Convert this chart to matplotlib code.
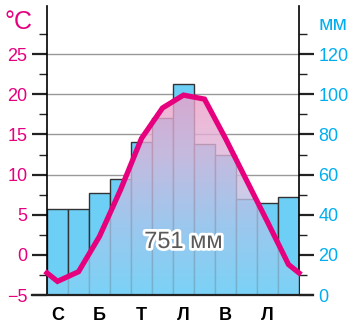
#!/usr/bin/env python3
# climate chart: monthly precipitation bars + temperature line

import numpy as np
import matplotlib
matplotlib.use("Agg")
import matplotlib.pyplot as plt
import matplotlib.patheffects as pe
from matplotlib.colors import LinearSegmentedColormap
from matplotlib.lines import Line2D
from matplotlib.patches import Polygon

plt.rcParams["font.family"] = ["Liberation Sans", "DejaVu Sans"]

# data
months = np.arange(1, 13)
temp_c = [-3.3, -2.1, 2.3, 8.1, 14.5, 18.3, 19.9, 19.4, 14.5, 9.3, 4.1, -1.2]
precip_mm = [43, 43, 51, 58, 76, 88, 105, 75, 70, 48, 46, 49]
month_labels = ["С", "Б", "Т", "Л", "В", "Л"]
month_label_pos = [1, 3, 5, 7, 9, 11]
total_label = "751 мм"

temp_ticks = [-5, 0, 5, 10, 15, 20, 25]
mm_ticks = [0, 20, 40, 60, 80, 100, 120]

MAGENTA = "#e6007e"
CYAN = "#00aeef"
BAR = "#6dcff6"


def main():
    fig = plt.figure(figsize=(3.51, 3.25), dpi=100)
    ax2 = fig.add_axes([47 / 351, 30 / 325, 252 / 351, 289 / 325])
    ax = ax2.twinx()
    ax.yaxis.tick_left()
    ax2.yaxis.tick_right()
    ax.set_zorder(ax2.get_zorder() + 1)
    ax.patch.set_visible(False)

    ax.set_xlim(0, 12)
    ax.set_ylim(-5, 31)
    ax2.set_ylim(0, 144)

    # bars + grid on the mm axis
    x = months - 0.5
    ax2.set_axisbelow(True)
    ax2.yaxis.grid(True, color="#999999", linewidth=1.0)
    ax2.bar(x, precip_mm, width=1.0, color=BAR, edgecolor="#333333", linewidth=1.0)

    # temperature line, extended to the chart edges
    edge = (temp_c[0] + temp_c[-1]) / 2
    lx = np.concatenate([[0], x, [12]])
    ly = np.concatenate([[edge], temp_c, [edge]])

    # gradient fill under the curve
    cmap = LinearSegmentedColormap.from_list(
        "warm", ["#7fd3f7", "#a9c6ec", "#dcb6da", "#f39cc4"]
    )
    grad = np.linspace(0, 1, 256).reshape(-1, 1)
    img = ax.imshow(grad, cmap=cmap, aspect="auto", origin="lower",
                    extent=(0, 12, -5, 21), alpha=0.8, zorder=2)
    poly = Polygon(np.column_stack([np.concatenate([lx, [12, 0]]),
                                    np.concatenate([ly, [-5, -5]])]),
                   closed=True, facecolor="none", edgecolor="none")
    ax.add_patch(poly)
    img.set_clip_path(poly)

    ax.plot(lx, ly, color=MAGENTA, linewidth=3.8, solid_joinstyle="miter",
            zorder=4, clip_on=False)

    ax.text(6.5, 1.6, total_label, ha="center", va="center", fontsize=17,
            color="#5a5a5a", zorder=5,
            path_effects=[pe.withStroke(linewidth=4, foreground="white")])

    # left axis (temperature)
    ax.set_yticks(temp_ticks)
    ax.set_yticks(np.arange(-2.5, 30, 5), minor=True)
    ax.tick_params(axis="y", which="major", length=11, width=1.6, pad=3,
                   labelsize=13, labelcolor=MAGENTA, color="#222222")
    ax.tick_params(axis="y", which="minor", length=6, width=1.0, color="#222222")

    # right axis (precipitation)
    ax2.set_yticks(mm_ticks)
    ax2.set_yticks(np.arange(10, 140, 20), minor=True)
    ax2.tick_params(axis="y", which="major", length=11, width=1.6, pad=3,
                    labelsize=13, labelcolor=CYAN, color="#222222")
    ax2.tick_params(axis="y", which="minor", length=6, width=1.0, color="#222222")

    # month labels (the twin's x axis is hidden, so use the base axes)
    ax2.set_xticks([m - 0.5 for m in month_label_pos])
    ax2.set_xticklabels(month_labels, fontsize=13, fontweight="bold")
    ax2.tick_params(axis="x", length=0, pad=9)

    for a in (ax, ax2):
        a.spines["top"].set_visible(False)
        a.spines["bottom"].set_visible(False)
        a.spines["left"].set_linewidth(1.2)
        a.spines["right"].set_linewidth(1.2)
    ax.spines["right"].set_visible(False)
    ax2.spines["left"].set_visible(False)

    # base line sticking out past both sides
    ax.add_line(Line2D([-15 / 252, 1 + 14 / 252], [0, 0], transform=ax.transAxes,
                       color="#222222", linewidth=1.6, clip_on=False, zorder=6))

    fig.text(18 / 351, 1 - 22 / 325, "°C", color=MAGENTA, fontsize=18,
             ha="center", va="center")
    fig.text(318 / 351, 1 - 25 / 325, "мм", color=CYAN, fontsize=15,
             ha="left", va="center")

    fig.savefig("out.png", dpi=100)


if __name__ == "__main__":
    main()
